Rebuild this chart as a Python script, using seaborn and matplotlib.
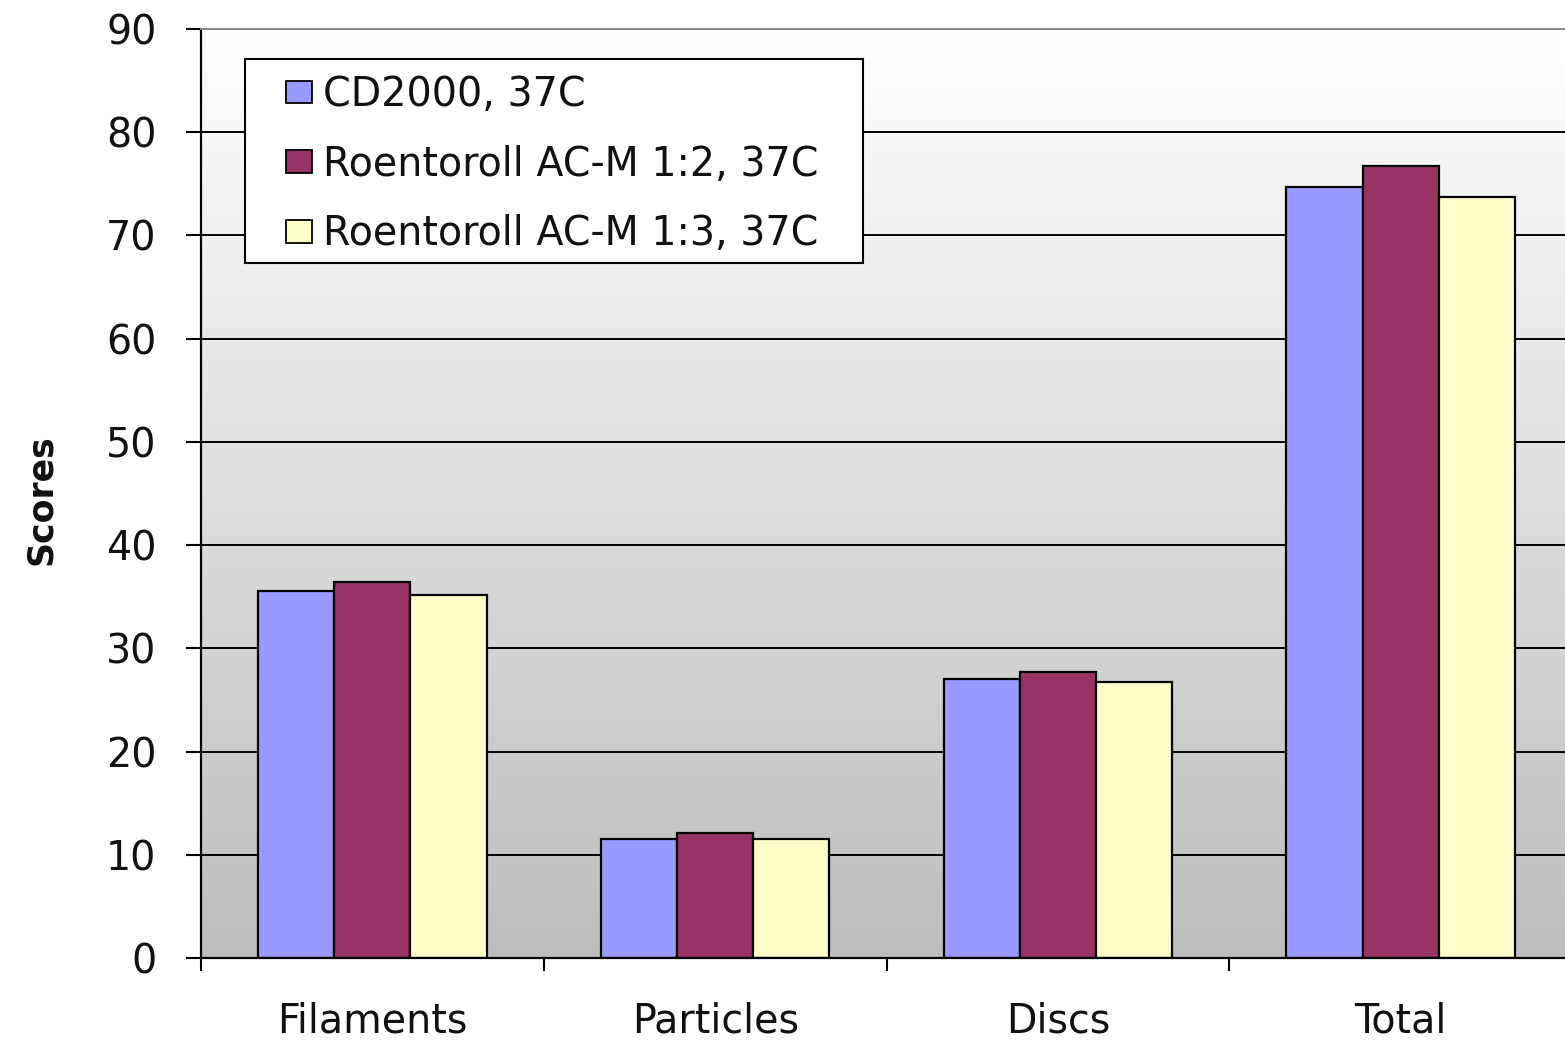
import numpy as np
import pandas as pd
import matplotlib
matplotlib.use("Agg")
import matplotlib.pyplot as plt
import seaborn as sns
from matplotlib.patches import Rectangle
from matplotlib.colors import LinearSegmentedColormap
from matplotlib.ticker import FixedLocator, NullFormatter, FixedFormatter

# Data
categories = ["Filaments", "Particles", "Discs", "Total"]
series = ["CD2000, 37C", "Roentoroll AC-M 1:2, 37C", "Roentoroll AC-M 1:3, 37C"]
cd2000 = [35.6, 11.5, 27.0, 74.7]
roentoroll_12 = [36.4, 12.1, 27.7, 76.7]
roentoroll_13 = [35.2, 11.5, 26.7, 73.7]
y_ticks = [0, 10, 20, 30, 40, 50, 60, 70, 80, 90]

colors = ["#9999FF", "#993366", "#FFFFCC"]

df = pd.DataFrame({
    "category": categories * 3,
    "series": [series[0]] * 4 + [series[1]] * 4 + [series[2]] * 4,
    "score": cd2000 + roentoroll_12 + roentoroll_13,
})

sns.set_theme(style="white")
plt.rcParams["font.family"] = ["DejaVu Sans"]

fig = plt.figure(figsize=(15.65, 10.44), dpi=100)
ax = fig.add_axes([201 / 1565, 86 / 1044, 1371 / 1565, 929 / 1044])

# plot-area gradient: light at the top, grey at the bottom
grad_cmap = LinearSegmentedColormap.from_list("bg", ["#bdbdbd", "#ffffff"])
ax.imshow(np.linspace(1, 0, 256).reshape(-1, 1), extent=[-0.5, 3.5, 0, 90],
          cmap=grad_cmap, aspect="auto", zorder=0, interpolation="bilinear")

for yv in y_ticks[1:-1]:
    ax.axhline(yv, color="black", lw=1.4, zorder=0.5)

sns.barplot(data=df, x="category", y="score", hue="series", order=categories,
            hue_order=series, palette=colors, saturation=1, width=0.667,
            edgecolor="black", linewidth=1.6, gap=0, ax=ax, legend=False,
            zorder=2)

ax.set_xlim(-0.5, 3.5)
ax.set_ylim(0, 90)
ax.set_yticks(y_ticks)
ax.set_yticklabels([str(v) for v in y_ticks])

# category separators as major ticks, names centred via minor ticks
ax.xaxis.set_major_locator(FixedLocator([-0.5, 0.5, 1.5, 2.5, 3.5]))
ax.xaxis.set_major_formatter(NullFormatter())
ax.xaxis.set_minor_locator(FixedLocator([0, 1, 2, 3]))
ax.xaxis.set_minor_formatter(FixedFormatter(categories))
ax.tick_params(axis="x", which="major", direction="out", length=9, width=1.5,
               color="black", bottom=True)
ax.tick_params(axis="x", which="minor", length=0, pad=31, labelsize=28.5,
               labelcolor="#111111")
ax.tick_params(axis="y", direction="out", length=11, width=1.5, color="black",
               left=True, pad=21, labelsize=28.5, labelcolor="#111111")
ax.set_xlabel("")

for side in ["left", "bottom"]:
    ax.spines[side].set_color("black")
    ax.spines[side].set_linewidth(1.6)
ax.spines["right"].set_visible(False)
ax.spines["top"].set_color("#888888")
ax.spines["top"].set_linewidth(1.4)

ax.set_ylabel("Scores", fontsize=25, fontweight="bold", color="#111111")
ax.yaxis.set_label_coords(-0.104, 0.493)

# legend box
ax.add_patch(Rectangle((0.0321, 0.748), 0.4508, 0.2197, transform=ax.transAxes,
                       facecolor="white", edgecolor="black", lw=1.5, zorder=4))
handles = [Rectangle((0, 0), 1, 1, facecolor=c, edgecolor="black", lw=1.3)
           for c in colors]
ax.legend(handles, series, loc="upper left", bbox_to_anchor=(0.0620, 0.9505),
          frameon=False, borderpad=0, borderaxespad=0, fontsize=28.5,
          handlelength=0.66, handleheight=0.5, handletextpad=0.28,
          labelspacing=0.75, labelcolor="#111111")

fig.savefig("out.png", dpi=100)
